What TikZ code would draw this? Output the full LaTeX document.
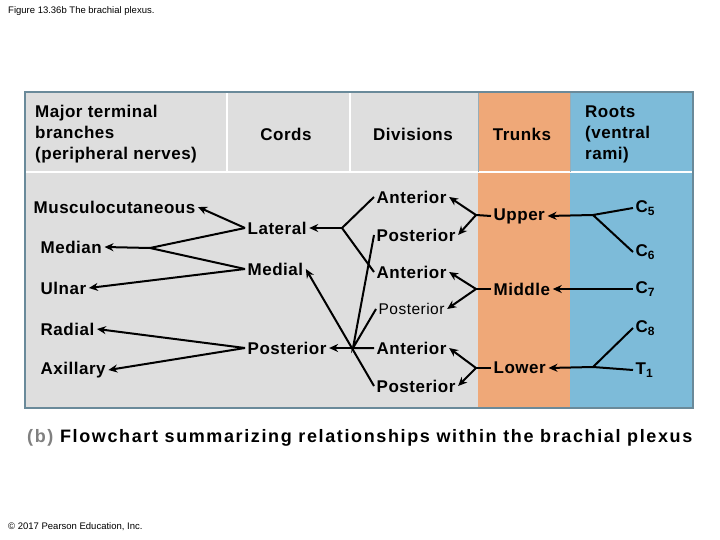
\documentclass[tikz,border=0pt]{standalone}
\usepackage{fontspec}
\setmainfont{Liberation Sans}
\usetikzlibrary{arrows.meta}
\definecolor{cgray}{HTML}{DEDEDE}
\definecolor{corange}{HTML}{EFA878}
\definecolor{cblue}{HTML}{7DBBD9}
\definecolor{cborder}{HTML}{6A8A9A}
\begin{document}
\begin{tikzpicture}[x=1pt,y=-1pt,
  lbl/.style={font=\fontsize{17}{18}\selectfont\bfseries\addfontfeature{LetterSpace=3},inner sep=2.5pt,anchor=west},
  hdr/.style={font=\fontsize{17}{21}\selectfont\bfseries\addfontfeature{LetterSpace=3},align=left,inner sep=0pt},
  ln/.style={line width=2pt},
  ar/.style={line width=2pt,-{Stealth[length=9pt,width=8pt]}}]
\useasboundingbox (0,0) rectangle (720,540);
\fill[white] (0,0) rectangle (720,540);
% panels
\fill[cgray] (25,92) rectangle (478,408);
\fill[corange] (478,92) rectangle (570,408);
\fill[cblue] (570,92) rectangle (693,408);
\draw[white,line width=1.5pt] (227,93) -- (227,172) (350,93) -- (350,172) (26,172) -- (692,172);
\draw[cborder,line width=1.5pt] (25,92) rectangle (693,408);
\draw[cborder!70,line width=0.8pt] (478,93) -- (478,172) (570,93) -- (570,172);
% headers
\node[hdr,anchor=west] (h1) at (35,134) {Major terminal\\branches\\(peripheral nerves)};
\node[hdr] (h2) at (286,134) {Cords};
\node[hdr] (h3) at (413,134) {Divisions};
\node[hdr] (h4) at (522,134) {Trunks};
\node[hdr,anchor=west] (h5) at (585,134) {Roots\\(ventral\\rami)};
% terminal branches
\node[lbl] (musc) at (31,207) {Musculocutaneous};
\node[lbl] (med) at (38,247) {Median};
\node[lbl] (uln) at (38,288) {Ulnar};
\node[lbl] (rad) at (38,329) {Radial};
\node[lbl] (axi) at (38,370) {Axillary};
% cords
\node[lbl] (lat) at (245,228) {Lateral};
\node[lbl] (mdl) at (245,269) {Medial};
\node[lbl] (pos) at (245,348) {Posterior};
% divisions
\node[lbl] (a1) at (374,197) {Anterior};
\node[lbl] (p1) at (374,235) {Posterior};
\node[lbl] (a2) at (374,272) {Anterior};
\node[lbl,font=\fontsize{15.5}{17}\selectfont\addfontfeature{LetterSpace=3}] (p2) at (376,309) {Posterior};
\node[lbl] (a3) at (374,348) {Anterior};
\node[lbl] (p3) at (374,386) {Posterior};
% trunks
\node[lbl] (up) at (491,216) {Upper};
\node[lbl] (mi) at (491,289) {Middle};
\node[lbl] (lo) at (491,368) {Lower};
% roots
\node[lbl] (c5) at (633,208) {C\raisebox{-0.35ex}{\fontsize{12}{12}\selectfont 5}};
\node[lbl] (c6) at (633,252) {C\raisebox{-0.35ex}{\fontsize{12}{12}\selectfont 6}};
\node[lbl] (c7) at (633,289) {C\raisebox{-0.35ex}{\fontsize{12}{12}\selectfont 7}};
\node[lbl] (c8) at (633,328) {C\raisebox{-0.35ex}{\fontsize{12}{12}\selectfont 8}};
\node[lbl] (t1) at (633,370) {T\raisebox{-0.35ex}{\fontsize{12}{12}\selectfont 1}};
% junction coordinates
\coordinate (jmed) at (150,248);
\coordinate (jlat) at (342,228);
\coordinate (jpos) at (353,348);
\coordinate (jup) at (476,215);
\coordinate (jmi) at (476,289);
\coordinate (jlo) at (476,368);
\coordinate (jc5) at (593,215);
\coordinate (jc8) at (593,367);
% cords -> branches
\draw[ar] (lat.west) -- (musc.east);
\draw[ln] (lat.west) -- (jmed) (mdl.west) -- (jmed);
\draw[ar] (jmed) -- (med.east);
\draw[ar] (mdl.west) -- (uln.east);
\draw[ar] (pos.west) -- (rad.east);
\draw[ar] (pos.west) -- (axi.east);
% divisions -> cords
\draw[ln] (a1.west) -- (jlat) -- (a2.west);
\draw[ar] (jlat) -- (lat.east);
\draw[ar] (p3.west) -- (mdl.east);
\draw[ln] (p1.west) -- (jpos) -- (p2.west) (a3.west) -- (jpos);
\draw[ar] (jpos) -- (pos.east);
% trunks -> divisions
\draw[ln] (up.west) -- (jup); \draw[ar] (jup) -- (a1.east); \draw[ar] (jup) -- (p1.east);
\draw[ln] (mi.west) -- (jmi); \draw[ar] (jmi) -- (a2.east); \draw[ar] (jmi) -- (p2.east);
\draw[ln] (lo.west) -- (jlo); \draw[ar] (jlo) -- (a3.east); \draw[ar] (jlo) -- (p3.east);
% roots -> trunks
\draw[ln] (c5.west) -- (jc5) -- (c6.west);
\draw[ar] (jc5) -- (up.east);
\draw[ar] (c7.west) -- (mi.east);
\draw[ln] (c8.west) -- (jc8) -- (t1.west);
\draw[ar] (jc8) -- (lo.east);
% caption
\node[anchor=west,inner sep=0pt,font=\fontsize{18}{20}\selectfont\bfseries\addfontfeature{LetterSpace=9}] (cap) at (27,438) {\textcolor{gray}{(b)} Flowchart summarizing relationships within the brachial plexus};
\node[anchor=west,inner sep=0pt,font=\fontsize{9.5}{10}\selectfont] (fig) at (8,11) {Figure 13.36b The brachial plexus.};
\node[anchor=west,inner sep=0pt,font=\fontsize{9.5}{10}\selectfont] (copy) at (8,527) {© 2017 Pearson Education, Inc.};
\end{tikzpicture}
\end{document}
